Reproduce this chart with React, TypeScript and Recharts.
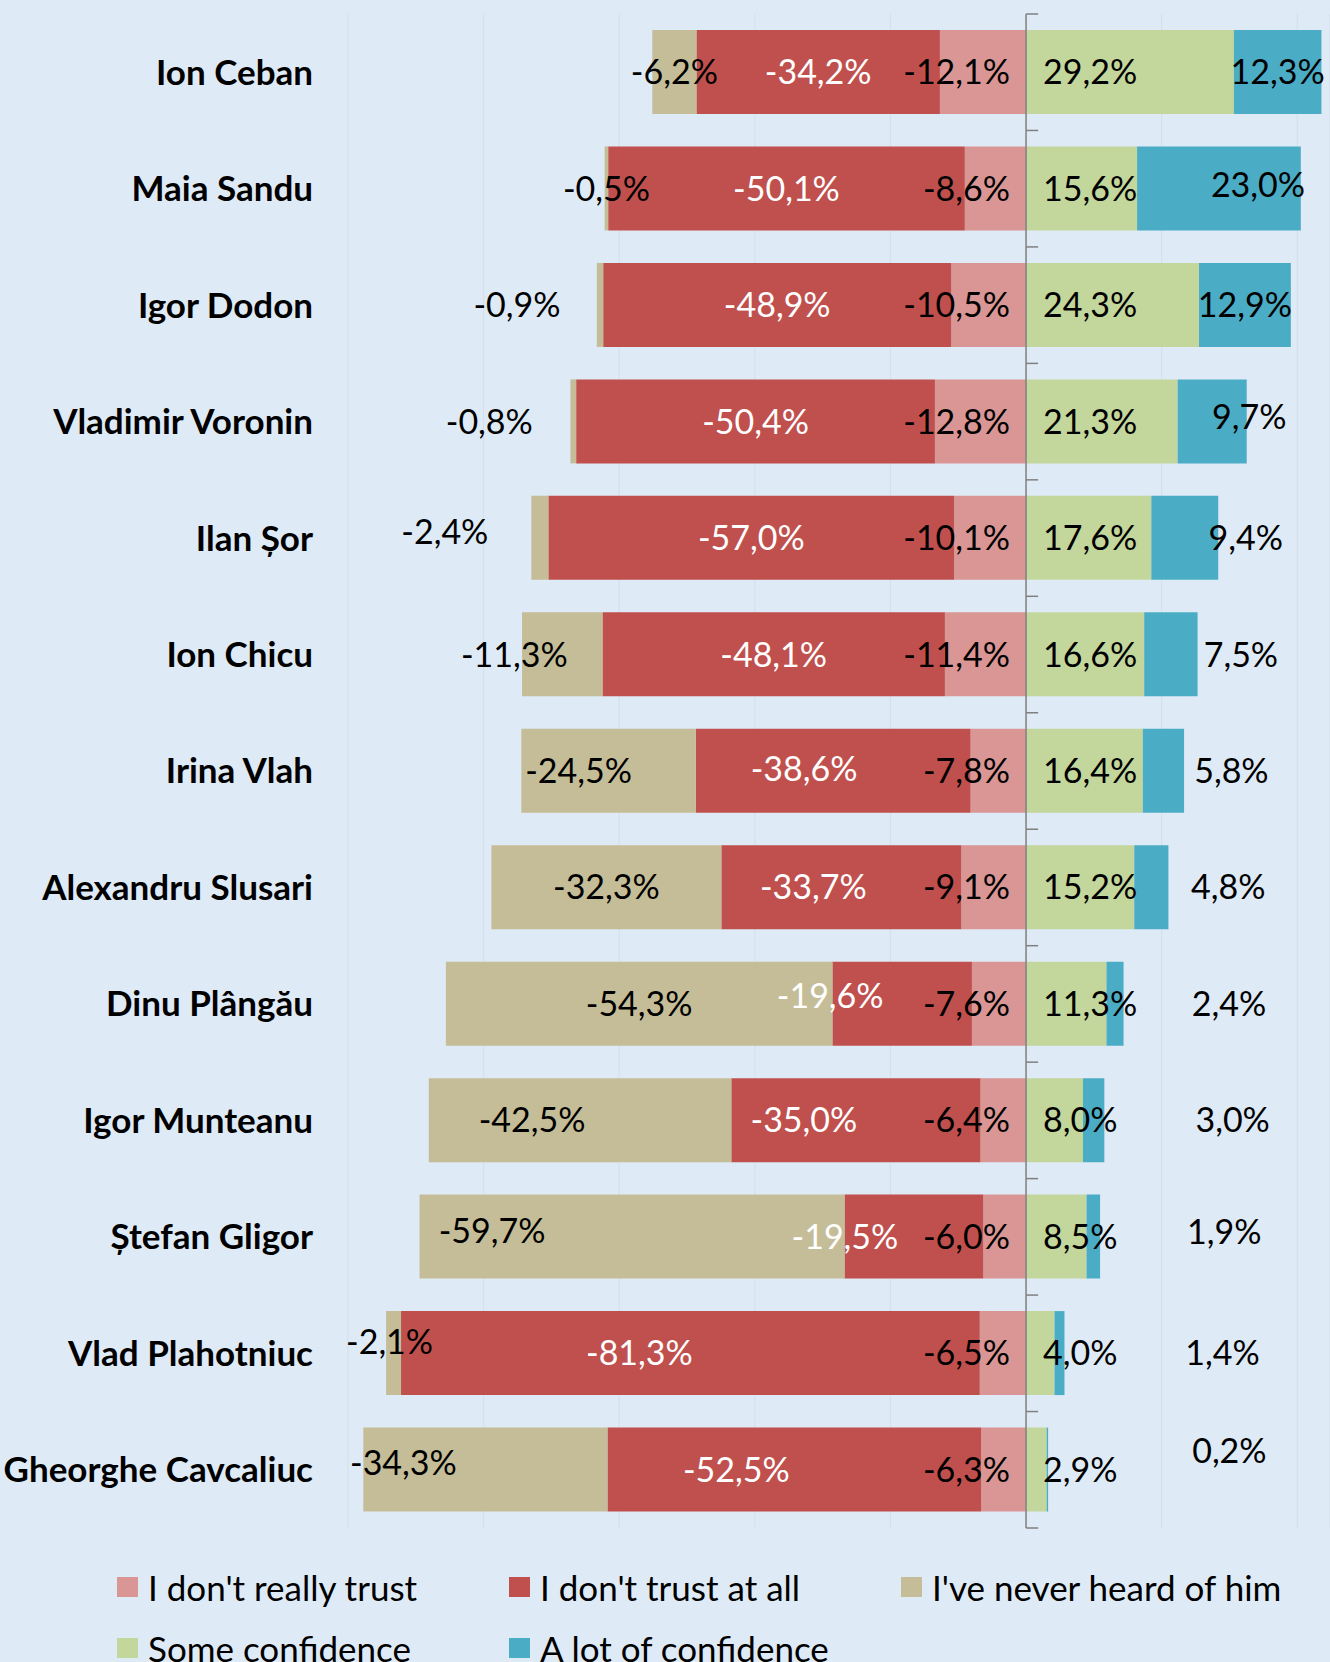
import React from "react";
import {
  BarChart,
  Bar,
  XAxis,
  YAxis,
  CartesianGrid,
  ReferenceLine,
  LabelList,
  Legend,
} from "recharts";

const candidates = [
  "Ion Ceban",
  "Maia Sandu",
  "Igor Dodon",
  "Vladimir Voronin",
  "Ilan Șor",
  "Ion Chicu",
  "Irina Vlah",
  "Alexandru Slusari",
  "Dinu Plângău",
  "Igor Munteanu",
  "Ștefan Gligor",
  "Vlad Plahotniuc",
  "Gheorghe Cavcaliuc",
];

const dontReallyTrust = [-12.1, -8.6, -10.5, -12.8, -10.1, -11.4, -7.8, -9.1, -7.6, -6.4, -6.0, -6.5, -6.3];
const dontTrustAtAll = [-34.2, -50.1, -48.9, -50.4, -57.0, -48.1, -38.6, -33.7, -19.6, -35.0, -19.5, -81.3, -52.5];
const neverHeard = [-6.2, -0.5, -0.9, -0.8, -2.4, -11.3, -24.5, -32.3, -54.3, -42.5, -59.7, -2.1, -34.3];
const someConfidence = [29.2, 15.6, 24.3, 21.3, 17.6, 16.6, 16.4, 15.2, 11.3, 8.0, 8.5, 4.0, 2.9];
const lotOfConfidence = [12.3, 23.0, 12.9, 9.7, 9.4, 7.5, 5.8, 4.8, 2.4, 3.0, 1.9, 1.4, 0.2];

// label nudges (px) to follow the hand-placed labels of the original
const neverDx = [0, 0, -83, -84, -95, -48, -30, 0, 0, -48, -140, -4, -82];
const neverDy = [0, 0, 0, 0, -6, 0, 0, 0, 0, 0, -6, -11, -7];
const atAllDx = [0, 0, 0, 0, 0, 0, -29, -28, -72, -52, -69, -51, -58];
const atAllDy = [0, 0, 0, 0, 0, 0, -2, 0, -8, 0, 0, 0, 0];
const lotDx = [0, 39, 0, 37, 61, 70, 68, 77, 114, 139, 131, 163, 182];
const lotDy = [0, -4, 0, -5, 0, 0, 0, 0, 0, 0, -5, 0, -19];

const data = candidates.map((name, i) => ({
  name,
  notReally: dontReallyTrust[i],
  notAtAll: dontTrustAtAll[i],
  never: neverHeard[i],
  some: someConfidence[i],
  lot: lotOfConfidence[i],
}));

const series = [
  { key: "notReally", name: "I don't really trust", color: "#D99694" },
  { key: "notAtAll", name: "I don't trust at all", color: "#C0504D" },
  { key: "never", name: "I've never heard of him", color: "#C4BD97" },
  { key: "some", name: "Some confidence", color: "#C3D69B" },
  { key: "lot", name: "A lot of confidence", color: "#4BACC6" },
];

const FONT = "Lato, 'Open Sans', sans-serif";
const BG = "#DEEAF6";
const GRID_STEP = 19.05;
const X_MIN = -5 * GRID_STEP;
const X_MAX = 42.7;
const gridTicks = [-5, -4, -3, -2, -1, 0, 1, 2].map((k) => k * GRID_STEP);
const TICK_LEN = 1.7;
const LABEL_SIZE = 34;

const fmt = (v: number) => `${v.toFixed(1).replace(".", ",")}%`;

const makeLabel =
  (kind: "center" | "start" | "end", color: string, dxs?: number[], dys?: number[]) =>
  (props: any) => {
    const vb = props.viewBox && typeof props.viewBox.width === "number" ? props.viewBox : props;
    const x0 = Number(vb.x);
    const w = Number(vb.width);
    const y0 = Number(vb.y);
    const h = Number(vb.height);
    const left = Math.min(x0, x0 + w);
    const right = Math.max(x0, x0 + w);
    const mid = (Math.min(y0, y0 + h) + Math.max(y0, y0 + h)) / 2;
    const i = props.index ?? 0;
    let tx = (left + right) / 2 + (dxs ? dxs[i] : 0);
    let anchor: "start" | "middle" | "end" = "middle";
    if (kind === "end") {
      tx = right - 16;
      anchor = "end";
    } else if (kind === "start") {
      tx = left + 17;
      anchor = "start";
    }
    const ty = mid + (dys ? dys[i] : 0) + LABEL_SIZE * 0.36;
    return (
      <text x={tx} y={ty} textAnchor={anchor} fill={color} fontFamily={FONT} fontSize={LABEL_SIZE}>
        {fmt(Number(props.value))}
      </text>
    );
  };

const renderLegend = () => (
  <div style={{ position: "relative", width: 1330, height: 100, fontFamily: FONT, fontSize: 35, color: "#000" }}>
    {series.map((s, i) => (
      <div
        key={s.key}
        style={{
          position: "absolute",
          left: 117 + (i % 3) * 392,
          top: Math.floor(i / 3) * 61,
          height: 40,
          lineHeight: "40px",
          display: "flex",
          alignItems: "center",
          whiteSpace: "nowrap",
        }}
      >
        <span style={{ display: "inline-block", width: 21, height: 20, background: s.color, marginRight: 10 }} />
        <span>{s.name}</span>
      </div>
    ))}
  </div>
);

export default function App() {
  return (
    <div
      style={{
        position: "absolute",
        left: 0,
        top: 0,
        width: 1330,
        height: 1662,
        background: BG,
        overflow: "hidden",
      }}
    >
      <BarChart
        width={1330}
        height={1662}
        data={data}
        layout="vertical"
        stackOffset="sign"
        barSize={84}
        margin={{ top: 14, right: 0, bottom: 134, left: 0 }}
      >
        <CartesianGrid horizontal={false} stroke="#D3DFEB" strokeWidth={1} />
        <XAxis type="number" domain={[X_MIN, X_MAX]} ticks={gridTicks} hide allowDataOverflow />
        <YAxis
          type="category"
          dataKey="name"
          width={348}
          axisLine={false}
          tickLine={false}
          tickMargin={29}
          tick={{ fill: "#000", fontSize: 35, fontWeight: 700, fontFamily: FONT }}
        />
        <Bar dataKey="notReally" name={series[0].name} stackId="a" fill={series[0].color} isAnimationActive={false}>
          <LabelList dataKey="notReally" content={makeLabel("end", "#000")} />
        </Bar>
        <Bar dataKey="notAtAll" name={series[1].name} stackId="a" fill={series[1].color} isAnimationActive={false}>
          <LabelList dataKey="notAtAll" content={makeLabel("center", "#fff", atAllDx, atAllDy)} />
        </Bar>
        <Bar dataKey="never" name={series[2].name} stackId="a" fill={series[2].color} isAnimationActive={false}>
          <LabelList dataKey="never" content={makeLabel("center", "#000", neverDx, neverDy)} />
        </Bar>
        <Bar dataKey="some" name={series[3].name} stackId="a" fill={series[3].color} isAnimationActive={false}>
          <LabelList dataKey="some" content={makeLabel("start", "#000")} />
        </Bar>
        <Bar dataKey="lot" name={series[4].name} stackId="a" fill={series[4].color} isAnimationActive={false}>
          <LabelList dataKey="lot" content={makeLabel("center", "#000", lotDx, lotDy)} />
        </Bar>
        <ReferenceLine x={0} stroke="#808080" strokeWidth={1.5} ifOverflow="visible" />
        {candidates.map((c) => (
          <ReferenceLine
            key={`tick-${c}`}
            segment={[{ x: 0, y: c }, { x: TICK_LEN, y: c }]}
            position="start"
            stroke="#808080"
            strokeWidth={1.5}
            ifOverflow="visible"
          />
        ))}
        <ReferenceLine
          segment={[{ x: 0, y: candidates[candidates.length - 1] }, { x: TICK_LEN, y: candidates[candidates.length - 1] }]}
          position="end"
          stroke="#808080"
          strokeWidth={1.5}
          ifOverflow="visible"
        />
        <Legend
          layout="horizontal"
          verticalAlign="middle"
          align="center"
          content={renderLegend}
          wrapperStyle={{ left: 0, top: 1567, width: 1330 }}
        />
      </BarChart>
    </div>
  );
}
